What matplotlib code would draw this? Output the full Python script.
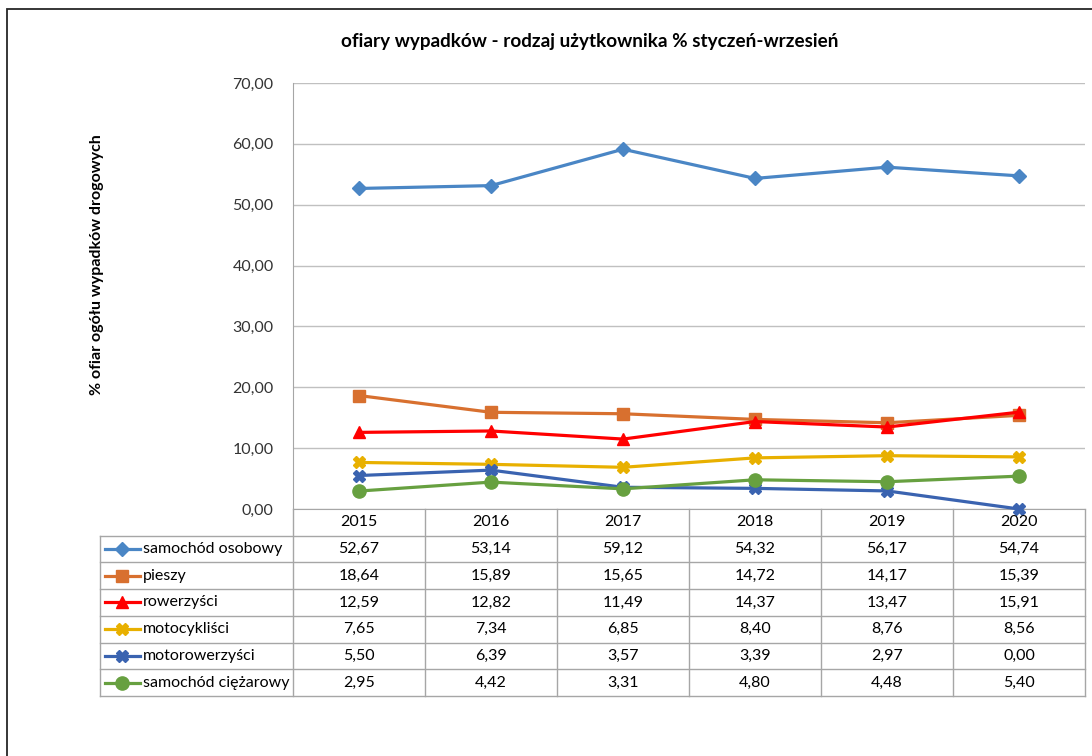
import matplotlib.pyplot as plt
from matplotlib.transforms import blended_transform_factory
from matplotlib.patches import Rectangle
from matplotlib.lines import Line2D

plt.rcParams['font.family'] = ['Lato', 'DejaVu Sans']

# dane
years = ['2015', '2016', '2017', '2018', '2019', '2020']
names = ['samochód osobowy', 'pieszy', 'rowerzyści', 'motocykliści',
         'motorowerzyści', 'samochód ciężarowy']
osobowy = [52.67, 53.14, 59.12, 54.32, 56.17, 54.74]
pieszy = [18.64, 15.89, 15.65, 14.72, 14.17, 15.39]
rowerzysci = [12.59, 12.82, 11.49, 14.37, 13.47, 15.91]
motocyklisci = [7.65, 7.34, 6.85, 8.40, 8.76, 8.56]
motorowerzysci = [5.50, 6.39, 3.57, 3.39, 2.97, 0.00]
ciezarowy = [2.95, 4.42, 3.31, 4.80, 4.48, 5.40]
series = [osobowy, pieszy, rowerzysci, motocyklisci, motorowerzysci, ciezarowy]

colors = ['#4a86c5', '#d8702f', '#ff0000', '#e8b000', '#3a63b0', '#67a040']
markers = ['D', 's', '^', 'X', 'X', 'o']
msizes = [7.5, 9, 9, 9, 9, 9.5]

def fmt(v):
    return f'{v:.2f}'.replace('.', ',')

fig = plt.figure(figsize=(10.92, 7.56), dpi=100)
W, H = 1092, 756
ax = fig.add_axes([293 / W, (H - 509) / H, 792 / W, 426 / H])

# ramka wykresu (obcięta z prawej i od dołu)
fig.patches.append(Rectangle((7 / W, -0.1), 1.2, (H - 9) / H + 0.1,
                             transform=fig.transFigure, fill=False,
                             edgecolor='#262626', lw=1.3))

x = list(range(len(years)))
for vals, c, m, ms in zip(series, colors, markers, msizes):
    ax.plot(x, vals, color=c, lw=2.3, marker=m, ms=ms, clip_on=False, zorder=3)

ax.set_xlim(-0.5, 5.5)
ax.set_ylim(0, 70)
ax.set_yticks(range(0, 71, 10))
ax.set_yticklabels([fmt(v) for v in range(0, 71, 10)], fontsize=11.5, color='#333333')
ax.tick_params(axis='y', length=0, pad=14)
ax.set_xticks([])
ax.grid(axis='y', color='#c0c0c0', lw=1)
ax.set_axisbelow(True)
for s in ['top', 'right']:
    ax.spines[s].set_visible(False)
for s in ['left', 'bottom']:
    ax.spines[s].set_color('#a6a6a6')

fig.text(590 / W, 1 - 42 / H, 'ofiary wypadków - rodzaj użytkownika % styczeń-wrzesień',
         ha='center', va='center', fontsize=13.6, fontweight='bold')
fig.text(97 / W, 1 - 265 / H, '% ofiar ogółu wypadków drogowych', rotation=90,
         ha='center', va='center', fontsize=11.5, fontweight='bold')

# tabela danych
tr = blended_transform_factory(ax.transData, ax.transAxes)
h = 26.7 / 426
left = (100 - 293) / 132 - 0.5
gc = '#a6a6a6'
nrows = len(names) + 1
for k in range(len(years) + 1):
    ax.add_line(Line2D([k - 0.5, k - 0.5], [0, -nrows * h], transform=tr,
                       color=gc, lw=1, clip_on=False))
ax.add_line(Line2D([left, left], [-h, -nrows * h], transform=tr,
                   color=gc, lw=1, clip_on=False))
for j in range(1, nrows + 1):
    ax.add_line(Line2D([left, 5.5], [-j * h, -j * h], transform=tr,
                       color=gc, lw=1, clip_on=False))

for i, yr in enumerate(years):
    ax.text(i, -0.5 * h, yr, transform=tr, ha='center', va='center', fontsize=11.5)

for r, (name, vals, c, m, ms) in enumerate(zip(names, series, colors, markers, msizes)):
    yc = -(r + 1.5) * h
    ax.add_line(Line2D([left + 0.04, left + 0.3], [yc, yc], transform=tr, color=c,
                       lw=2.3, clip_on=False))
    ax.add_line(Line2D([left + 0.17], [yc], transform=tr, color=c, marker=m,
                       ms=ms, lw=0, clip_on=False))
    ax.text(left + 0.325, yc, name, transform=tr, ha='left', va='center', fontsize=11.5)
    for i, v in enumerate(vals):
        ax.text(i, yc, fmt(v), transform=tr, ha='center', va='center', fontsize=11.5)

fig.savefig('out.png', dpi=100)
